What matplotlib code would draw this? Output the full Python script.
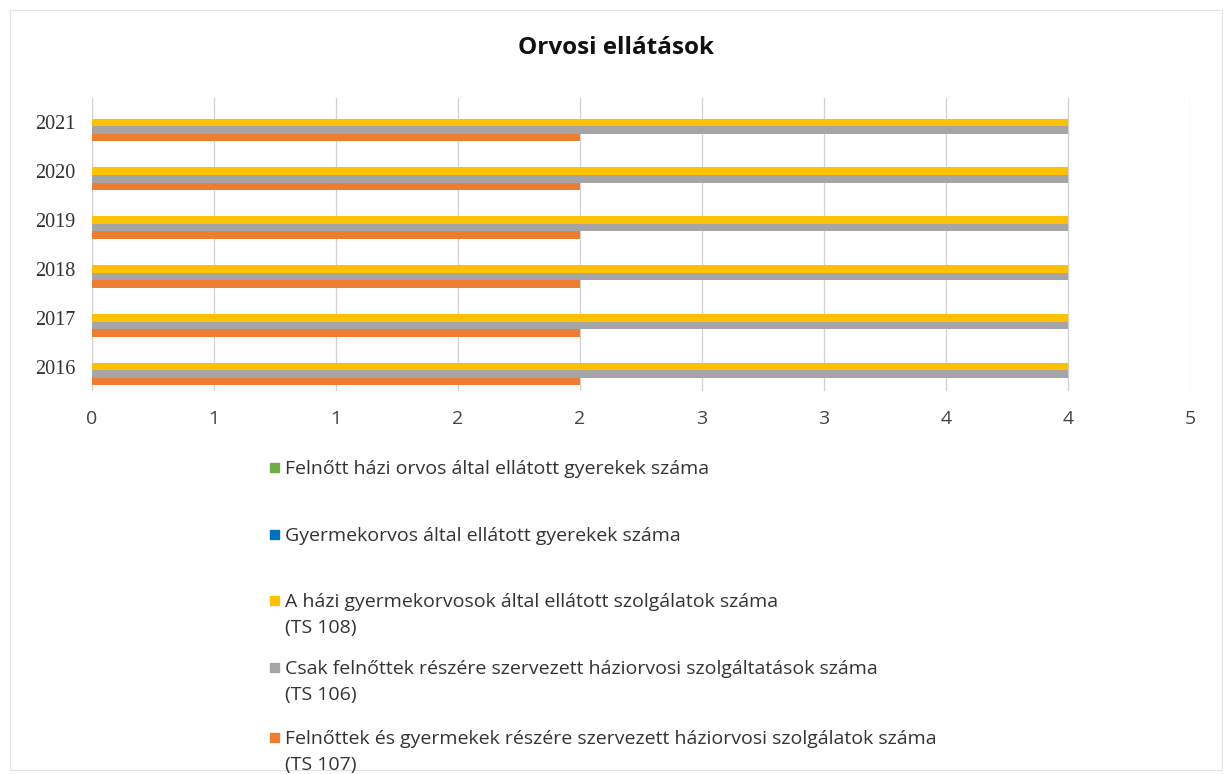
import math
import numpy as np
import matplotlib
matplotlib.use('Agg')
import matplotlib.pyplot as plt
from matplotlib.patches import Rectangle
from matplotlib.ticker import FuncFormatter

# adatok
evek = ['2016', '2017', '2018', '2019', '2020', '2021']
felnott_hazi = [0, 0, 0, 0, 0, 0]
gyermekorvos = [0, 0, 0, 0, 0, 0]
ts108 = [4, 4, 4, 4, 4, 4]
ts106 = [4, 4, 4, 4, 4, 4]
ts107 = [2, 2, 2, 2, 2, 2]

sorozatok = [
    ('Felnőtt házi orvos által ellátott gyerekek száma', felnott_hazi, '#70AD47'),
    ('Gyermekorvos által ellátott gyerekek száma', gyermekorvos, '#0070C0'),
    ('A házi gyermekorvosok által ellátott szolgálatok száma\n(TS 108)', ts108, '#FFC000'),
    ('Csak felnőttek részére szervezett háziorvosi szolgáltatások száma\n(TS 106)', ts106, '#A5A5A5'),
    ('Felnőttek és gyermekek részére szervezett háziorvosi szolgálatok száma\n(TS 107)', ts107, '#ED7D31'),
]

tick_ertekek = np.arange(0, 5, 0.5)

fig = plt.figure(figsize=(12.31, 7.74), dpi=100)
ax = fig.add_axes([92 / 1231, 1 - 391 / 774, (1190 - 92) / 1231, 293 / 774])

# halvany keret a diagram korul
fig.patches.append(Rectangle((10 / 1231, 4 / 774), 1212 / 1231, 760 / 774,
                             transform=fig.transFigure, fill=False,
                             edgecolor='#E4E4E4', linewidth=0.8))

y = np.arange(len(evek))
h = 0.154
for i, (nev, ertek, szin) in enumerate(sorozatok):
    ax.barh(y + (2 - i) * h, ertek, height=h, color=szin, zorder=3)

ax.set_xlim(0, 4.5)
ax.set_ylim(-0.5, len(evek) - 0.5)
ax.set_xticks(tick_ertekek)
ax.xaxis.set_major_formatter(FuncFormatter(lambda v, p: str(int(math.floor(v + 0.5)))))
ax.set_yticks(y)
ax.set_yticklabels(evek, family='Liberation Serif', fontsize=14.5, color='#333333')
for t in ax.get_xticklabels():
    t.set_family(['Open Sans'])
    t.set_fontsize(14)
    t.set_color('#444444')
ax.tick_params(axis='x', length=0, pad=14)
ax.tick_params(axis='y', length=0, pad=12)
ax.grid(axis='x', color='#D0D0D0', linewidth=0.9, zorder=0)
for s in ax.spines.values():
    s.set_visible(False)

fig.text(616 / 1231, 1 - 48 / 774, 'Orvosi ellátások', ha='center', va='center',
         fontsize=17.5, fontweight='bold', family=['Open Sans'], color='#111111')

# jelmagyarazat kezzel
sorok_y = [467, 534, 600, 667, 737]
for (nev, ertek, szin), yy in zip(sorozatok, sorok_y):
    fig.patches.append(Rectangle((270 / 1231, 1 - (yy + 5) / 774), 9 / 1231, 9 / 774,
                                 transform=fig.transFigure, color=szin))
    fig.text(285 / 1231, 1 - (yy - 7) / 774, nev, ha='left', va='top',
             fontsize=14, family=['Open Sans'],
             color='#333333', linespacing=1.55)

plt.savefig('out.png', dpi=100)
